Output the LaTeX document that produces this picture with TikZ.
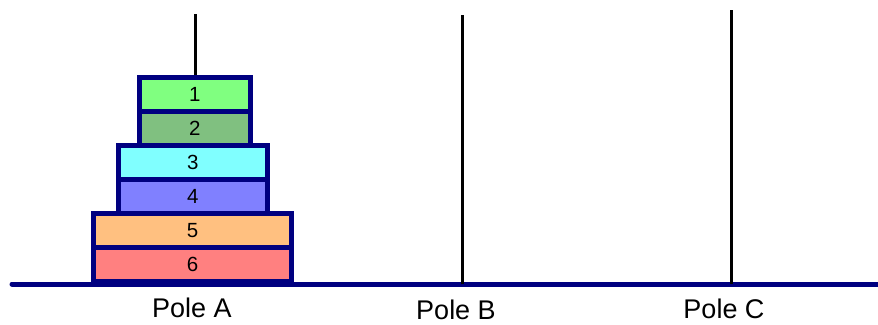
\documentclass[tikz,border=0pt]{standalone}
\usepackage{fontspec}
\setmainfont{Liberation Sans}
\definecolor{navy}{HTML}{000080}
\definecolor{c1}{HTML}{80FF80}
\definecolor{c2}{HTML}{80C080}
\definecolor{c3}{HTML}{80FFFF}
\definecolor{c4}{HTML}{8080FF}
\definecolor{c5}{HTML}{FFC080}
\definecolor{c6}{HTML}{FF8080}
\tikzset{
  disk/.style={draw=navy, line width=5pt, rectangle, minimum height=34pt, inner sep=0pt,
    font=\fontsize{20.5}{24}\selectfont, anchor=south},
  pole/.style={draw=black, line width=3pt},
  base/.style={draw=navy, line width=5pt},
  polelabel/.style={font=\fontsize{27}{32}\selectfont, anchor=base, inner sep=0pt}
}
\begin{document}
\begin{tikzpicture}[x=1pt,y=-1pt]
\useasboundingbox (0,0) rectangle (878,324);
% base line
\coordinate (bl) at (12,284);
\coordinate (br) at (878,284);
\draw[base, line cap=round] (bl) -- (br);
% poles
\coordinate (ptA) at (195,14);
\coordinate (pbA) at (195,284);
\coordinate (ptB) at (462,15);
\coordinate (pbB) at (462,284);
\coordinate (ptC) at (731,10);
\coordinate (pbC) at (731,284);
\draw[pole] (ptA) -- (pbA);
\draw[pole] (ptB) -- (pbB);
\draw[pole] (ptC) -- (pbC);
% disks
\node[disk, fill=c6, minimum width=198pt] (d6) at (192.5,284) {6};
\node[disk, fill=c5, minimum width=198pt] (d5) at (192.5,250) {5};
\node[disk, fill=c4, minimum width=149pt] (d4) at (192.8,216) {4};
\node[disk, fill=c3, minimum width=149pt] (d3) at (192.8,182) {3};
\node[disk, fill=c2, minimum width=110.5pt] (d2) at (194.8,148) {2};
\node[disk, fill=c1, minimum width=110.5pt] (d1) at (194.8,114) {1};
% labels
\node[polelabel] (lA) at (192,317.3) {Pole A};
\node[polelabel] (lB) at (456,319.3) {Pole B};
\node[polelabel] (lC) at (724,318.3) {Pole C};
\end{tikzpicture}
\end{document}
